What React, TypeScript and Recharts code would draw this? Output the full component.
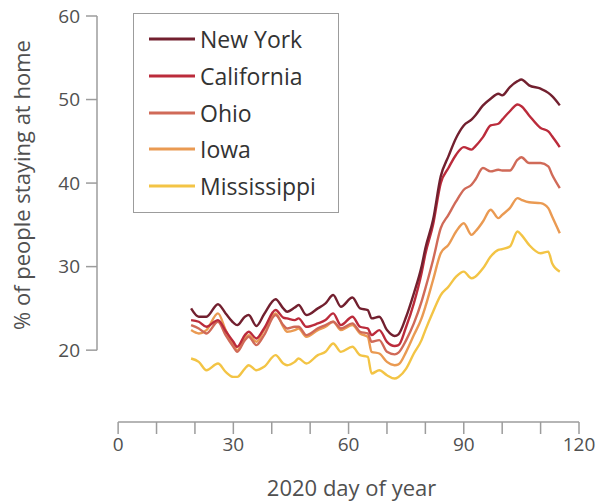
import { LineChart, Line, XAxis, YAxis, ReferenceLine, Legend, Label } from 'recharts';

// day of year sampled for every state
const days = [
  19, 21, 23, 26, 28, 30, 31, 33, 34, 36, 38, 41, 43, 44, 46, 47, 49, 52, 54, 56, 58, 61, 63, 65, 66, 68,
  70, 72, 73, 75, 77, 79, 80, 82, 84, 86, 88, 90, 92, 93, 95, 97, 99, 100, 102, 104, 105, 107, 110, 112, 113, 115,
];

// % of people staying at home
const newYork = [
  25.0, 24.0, 24.0, 25.5, 24.4, 23.3, 23.0, 24.0, 24.2, 22.9, 24.3, 26.1, 25.0, 24.6, 25.1, 25.4, 24.2, 25.0,
  25.6, 26.6, 25.2, 26.3, 25.0, 24.8, 23.8, 24.0, 22.4, 21.7, 21.9, 24.0, 26.8, 30.0, 32.2, 35.6, 40.8, 43.2,
  45.4, 46.9, 47.6, 48.1, 49.3, 50.1, 50.7, 50.5, 51.5, 52.2, 52.4, 51.7, 51.3, 50.8, 50.4, 49.3,
];
const california = [
  23.6, 23.4, 22.8, 23.6, 22.3, 21.0, 20.4, 21.8, 22.2, 21.4, 22.6, 24.8, 23.9, 23.8, 23.6, 23.8, 22.8, 23.2,
  23.6, 24.4, 23.0, 24.0, 22.8, 22.6, 21.8, 22.4, 21.0, 20.5, 20.6, 22.8, 25.6, 29.2, 31.5, 35.0, 40.0, 41.8,
  43.4, 44.3, 44.0, 44.4, 45.5, 46.9, 47.1, 47.6, 48.6, 49.4, 49.2, 48.1, 46.6, 46.2, 45.6, 44.3,
];
const ohio = [
  23.0, 22.6, 22.0, 23.4, 21.8, 20.4, 19.8, 21.2, 21.6, 20.6, 21.8, 24.2, 23.0, 22.6, 22.8, 22.8, 21.8, 22.6,
  23.0, 23.4, 22.6, 23.2, 22.2, 22.0, 21.0, 21.2, 19.8, 19.5, 19.7, 21.2, 23.2, 25.8, 27.4, 30.8, 34.6, 36.2,
  37.8, 39.2, 39.8, 40.4, 41.8, 41.4, 41.6, 41.5, 41.5, 42.8, 43.1, 42.4, 42.4, 42.0, 41.0, 39.4,
];
const iowa = [
  22.4, 22.0, 22.4, 24.4, 22.4, 20.6, 20.0, 21.4, 21.8, 21.0, 22.4, 24.4, 22.8, 22.2, 22.4, 22.6, 21.6, 22.4,
  22.8, 23.4, 22.4, 23.0, 22.0, 21.6, 19.8, 19.6, 18.6, 18.2, 18.3, 19.8, 21.8, 23.8, 25.2, 28.4, 31.6, 32.6,
  34.2, 35.2, 33.8, 34.2, 35.4, 36.8, 35.8, 36.2, 37.0, 38.2, 38.0, 37.7, 37.6, 37.0, 36.0, 34.0,
];
const mississippi = [
  19.0, 18.6, 17.6, 18.4, 17.4, 16.8, 16.8, 17.8, 18.2, 17.6, 18.0, 19.4, 18.4, 18.2, 18.6, 19.0, 18.4, 19.4,
  19.8, 20.8, 19.8, 20.4, 19.4, 19.2, 17.2, 17.6, 17.0, 16.6, 16.8, 17.8, 19.6, 21.2, 22.4, 24.6, 26.6, 27.6,
  28.8, 29.4, 28.6, 28.8, 29.8, 31.2, 32.0, 32.1, 32.4, 34.2, 33.8, 32.6, 31.6, 31.8, 30.4, 29.4,
];

const xTicks = [0, 10, 20, 30, 40, 50, 60, 70, 80, 90, 100, 110, 120];
const yTicks = [20, 30, 40, 50, 60];

const X_MIN = -5.5;
const X_MAX = 120;
const Y_MIN = 11.4;
const Y_MAX = 60;

const FONT = '"Open Sans", sans-serif';
const AXIS_GREY = '#9c9c9c';
const TEXT_GREY = '#505050';

const states = [
  { key: 'newYork', name: 'New York', color: '#72202f', values: newYork },
  { key: 'california', name: 'California', color: '#bb2b3b', values: california },
  { key: 'ohio', name: 'Ohio', color: '#d06a58', values: ohio },
  { key: 'iowa', name: 'Iowa', color: '#ea9a52', values: iowa },
  { key: 'mississippi', name: 'Mississippi', color: '#f3c445', values: mississippi },
];

const data = days.map((day, i) => {
  const row: Record<string, number> = { day };
  states.forEach((s) => {
    row[s.key] = s.values[i];
  });
  return row;
});

/** x ticks every 10 days, labels every 30 */
function DayTick({ x, y, payload }: any) {
  if (payload.value % 30 !== 0) return null;
  return (
    <text x={x} y={y} dy={15} textAnchor="middle" fill={TEXT_GREY} fontSize={19} fontFamily={FONT}>
      {payload.value}
    </text>
  );
}

function StateLegend() {
  return (
    <div
      style={{
        boxSizing: 'border-box',
        width: 206,
        height: 200,
        border: `1.5px solid ${AXIS_GREY}`,
        paddingTop: 7,
        paddingLeft: 15,
        fontFamily: FONT,
        fontSize: 23,
        color: '#333',
      }}
    >
      {states.map((s) => (
        <div key={s.key} style={{ display: 'flex', alignItems: 'center', height: 36.7 }}>
          <svg width={46} height={6} style={{ marginRight: 5 }}>
            <line x1={0} y1={3} x2={46} y2={3} stroke={s.color} strokeWidth={3} />
          </svg>
          <span>{s.name}</span>
        </div>
      ))}
    </div>
  );
}

export default function App() {
  return (
    <div style={{ position: 'absolute', left: 0, top: 0, background: '#fff' }}>
      <LineChart width={602} height={503} data={data} margin={{ top: 16, right: 23, bottom: 0, left: 0 }}>
        <XAxis
          type="number"
          dataKey="day"
          domain={[X_MIN, X_MAX]}
          ticks={xTicks}
          allowDataOverflow
          axisLine={false}
          tickSize={12}
          tickMargin={2}
          tickLine={{ stroke: AXIS_GREY, strokeWidth: 1.5 }}
          tick={<DayTick />}
          height={81}
        >
          <Label
            content={({ viewBox }: any) => (
              <text
                x={viewBox.x + (viewBox.width * (60 - X_MIN)) / (X_MAX - X_MIN) + 3}
                y={viewBox.y + viewBox.height - 7}
                textAnchor="middle"
                fill={TEXT_GREY}
                fontSize={22}
                fontFamily={FONT}
              >
                2020 day of year
              </text>
            )}
          />
        </XAxis>
        <YAxis
          type="number"
          domain={[Y_MIN, Y_MAX]}
          ticks={yTicks}
          allowDataOverflow
          width={97}
          axisLine={false}
          tickSize={11}
          tickMargin={6}
          tickLine={{ stroke: AXIS_GREY, strokeWidth: 1.5 }}
          tick={{ fill: TEXT_GREY, fontSize: 19, fontFamily: FONT }}
        >
          <Label
            content={({ viewBox }: any) => {
              const cx = viewBox.x + 21;
              const cy = viewBox.y + (viewBox.height * (Y_MAX - 40)) / (Y_MAX - Y_MIN) + 2;
              return (
                <text
                  x={cx}
                  y={cy}
                  transform={`rotate(-90 ${cx} ${cy})`}
                  textAnchor="middle"
                  dominantBaseline="central"
                  fill={TEXT_GREY}
                  fontSize={22}
                  fontFamily={FONT}
                >
                  % of people staying at home
                </text>
              );
            }}
          />
        </YAxis>
        {/* axis spines cover only the labelled ranges */}
        <ReferenceLine
          segment={[
            { x: X_MIN, y: 20 },
            { x: X_MIN, y: 60 },
          ]}
          stroke={AXIS_GREY}
          strokeWidth={1.5}
        />
        <ReferenceLine
          segment={[
            { x: 0, y: Y_MIN },
            { x: 120, y: Y_MIN },
          ]}
          stroke={AXIS_GREY}
          strokeWidth={1.5}
        />
        {[...states].reverse().map((s) => (
          <Line
            key={s.key}
            dataKey={s.key}
            name={s.name}
            type="monotone"
            stroke={s.color}
            strokeWidth={2.4}
            dot={false}
            isAnimationActive={false}
          />
        ))}
        <Legend
          layout="vertical"
          align="center"
          verticalAlign="middle"
          content={<StateLegend />}
          wrapperStyle={{ left: 133, top: 13, width: 206, height: 200 }}
        />
      </LineChart>
    </div>
  );
}
